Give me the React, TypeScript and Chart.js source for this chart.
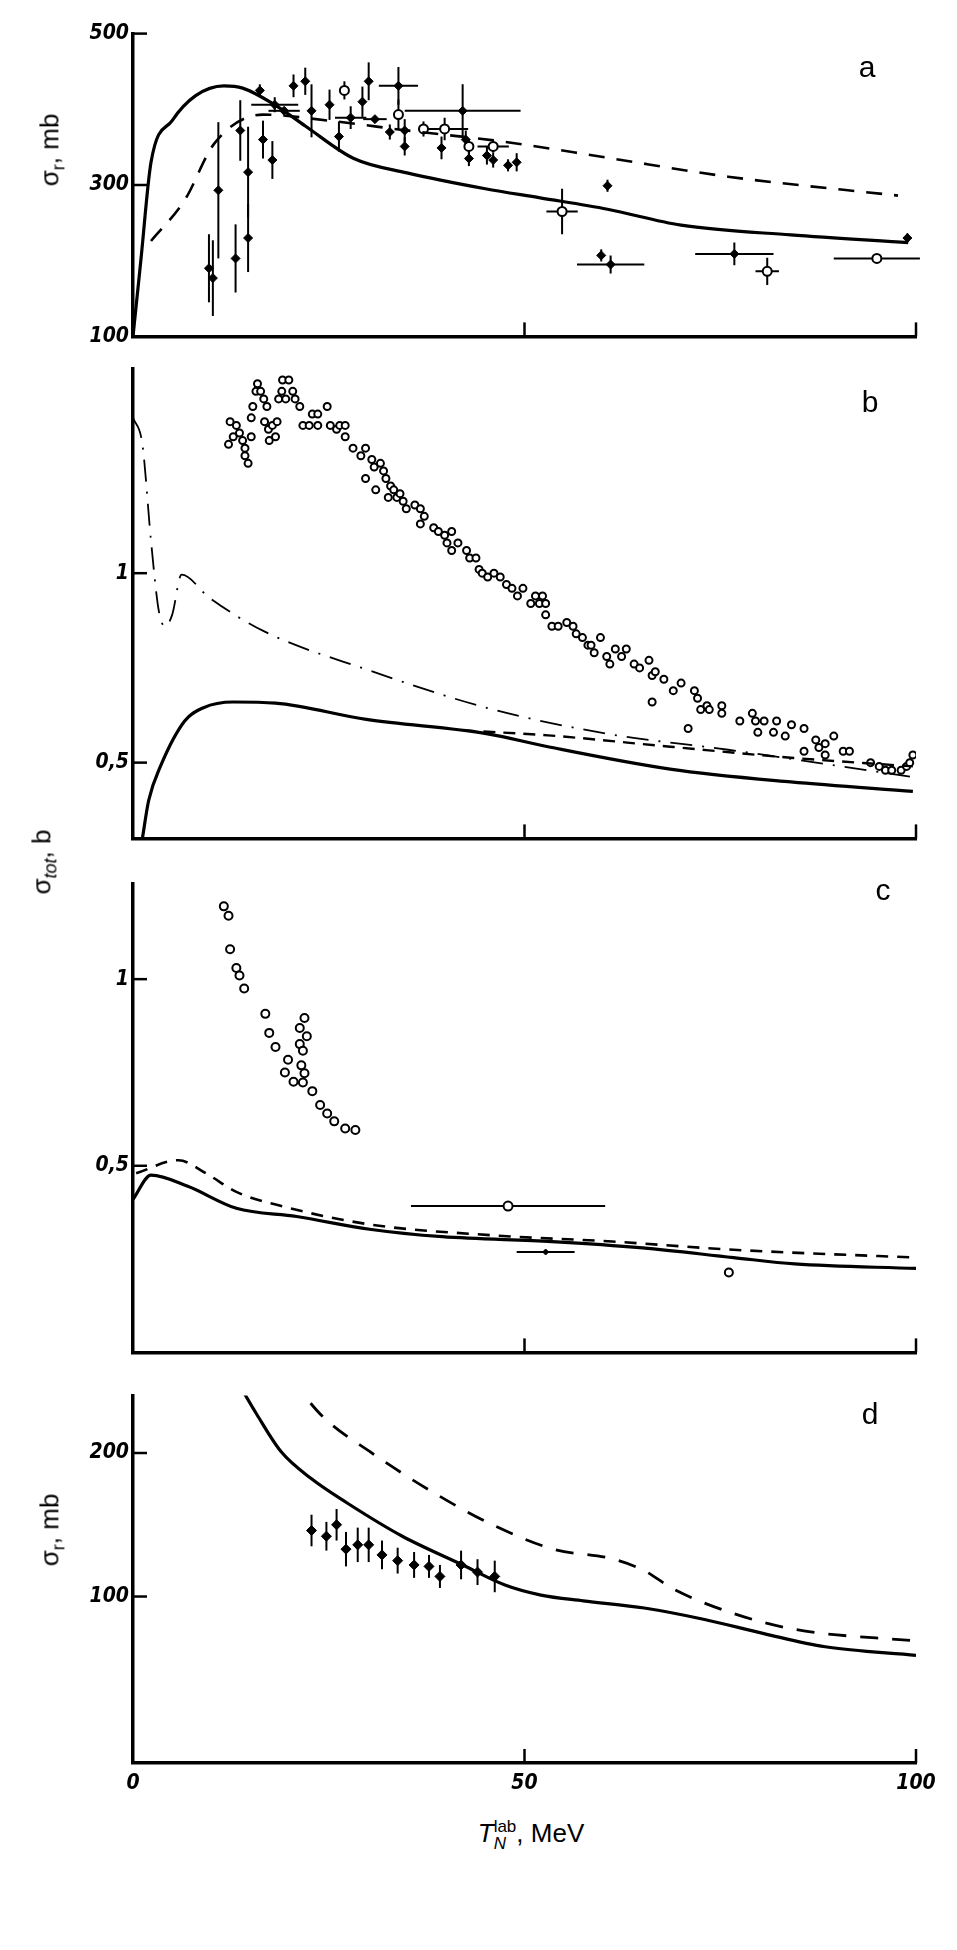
import React, { useEffect, useRef } from 'react';
import { Chart, registerables } from 'chart.js';

Chart.register(...registerables);

type P = [number, number];

// panel a: reaction cross section
const A_SOLID: P[] = [[0, 100], [1, 200], [2.3, 330], [5, 385], [8, 418], [11.6, 431], [14, 428], [18.1, 406], [22, 378], [28.2, 335], [35, 316], [45, 295], [52, 283], [60.6, 268], [70, 247], [84, 234], [99, 224]];
const A_DASH: P[] = [[2.3, 226], [6.6, 280], [10.4, 355], [16.6, 393], [25, 385], [35, 372], [47.5, 357], [60.6, 336], [76, 311], [97.7, 286]];
const A_FILLED: number[][] = [
  // x, y, yerr, xerr
  [9.7, 190, 45, 0], [10.2, 177, 50, 0], [10.9, 293, 90, 0], [13.1, 203, 45, 0], [13.7, 372, 40, 0], [14.7, 317, 60, 0], [14.7, 230, 45, 0],
  [16.6, 360, 25, 0], [17.8, 333, 25, 0], [16.2, 425, 8, 0], [18.1, 406, 10, 3], [19.3, 398, 0, 2], [20.5, 431, 15, 0], [22, 437, 18, 0],
  [22.8, 398, 35, 0], [25.1, 406, 20, 0], [26.3, 364, 20, 0], [27.8, 389, 15, 2], [29.3, 410, 20, 0], [30.1, 437, 25, 0], [30.9, 387, 0, 1.5],
  [32.8, 370, 10, 0], [33.9, 431, 25, 2.5], [34.7, 372, 15, 0], [34.7, 351, 12, 0], [39.4, 349, 15, 0], [42.1, 398, 35, 7.4], [42.5, 360, 12, 0],
  [42.9, 335, 10, 0], [45.2, 339, 12, 0], [46, 333, 10, 0], [47.9, 326, 8, 0], [49, 330, 12, 0], [60.6, 299, 8, 0], [59.8, 207, 8, 0],
  [61, 195, 12, 4.3], [76.8, 209, 15, 5], [98.9, 230, 6, 0]
];
const A_OPEN: number[][] = [
  [27, 425, 12, 0], [33.9, 393, 20, 0], [37.1, 374, 10, 0], [39.8, 374, 15, 3], [42.9, 351, 10, 0], [46, 351, 8, 2], [54.8, 265, 30, 2],
  [81, 186, 18, 1.5], [95, 203, 5, 5.5]
];

// panel b: total cross section
const B_SOLID: P[] = [[1.2, 0.3], [2, 0.4], [3.5, 0.49], [6.6, 0.61], [9, 0.645], [12.8, 0.66], [18.2, 0.657], [29.8, 0.614], [45.3, 0.576], [53, 0.542], [68.6, 0.483], [84, 0.449], [99.6, 0.424]];
const B_DASHDOT: P[] = [[0, 1.41], [1.2, 1.34], [2.3, 1.085], [3.3, 0.9], [4.1, 0.86], [5, 0.89], [6.2, 0.996], [9.7, 0.936], [16.7, 0.847], [29.8, 0.746], [45.3, 0.644], [60.6, 0.576], [76, 0.534], [99.6, 0.462]];
const B_DASH: P[] = [[42.2, 0.585], [53, 0.572], [68.6, 0.542], [84, 0.513], [99.6, 0.49]];
const B_DATA: P[] = [
  [12.2, 1.34], [12.4, 1.4], [12.8, 1.36], [13.2, 1.39], [13.6, 1.37], [14, 1.35], [14.3, 1.33], [14.3, 1.31], [14.7, 1.29], [15.1, 1.41], [15.1, 1.36],
  [15.3, 1.44], [15.7, 1.48], [15.9, 1.5], [16.3, 1.48], [16.7, 1.46], [16.8, 1.4], [17.1, 1.44], [17.3, 1.38], [17.4, 1.35], [17.8, 1.39], [18.2, 1.36],
  [18.4, 1.4], [18.6, 1.46], [19, 1.48], [19.1, 1.51], [19.5, 1.46], [19.9, 1.51], [20.4, 1.48], [20.7, 1.46], [21.3, 1.44], [21.7, 1.39], [22.5, 1.39],
  [22.9, 1.42], [23.6, 1.42], [23.6, 1.39], [24.8, 1.44], [25.2, 1.39], [26, 1.38], [26.4, 1.39], [27.1, 1.39], [27.1, 1.36],
  [28.1, 1.33], [29.1, 1.31], [29.7, 1.33], [29.7, 1.25], [30.5, 1.3], [30.8, 1.28], [31, 1.22], [31.6, 1.29], [32, 1.27], [32.3, 1.25], [32.6, 1.2],
  [32.9, 1.23], [33.3, 1.22], [33.7, 1.2], [34.1, 1.21], [34.5, 1.19], [34.9, 1.17], [36, 1.18], [36.7, 1.17], [37.2, 1.15], [36.7, 1.13], [38.4, 1.12],
  [39, 1.11], [39.8, 1.1], [40.7, 1.11], [40.1, 1.08], [40.7, 1.06], [41.5, 1.08], [42.6, 1.06], [43, 1.04], [43.8, 1.04], [44.2, 1.01], [44.6, 1.0],
  [45.3, 0.99], [46.1, 1.0], [46.9, 0.99], [47.7, 0.97], [48.4, 0.96], [49.1, 0.94], [49.8, 0.96], [50.8, 0.92], [51.4, 0.94], [51.9, 0.92], [52.3, 0.94],
  [52.7, 0.92], [52.7, 0.89], [53.5, 0.86], [54.3, 0.86], [55.4, 0.87], [56.2, 0.86], [56.6, 0.84], [57.4, 0.83], [58.1, 0.81], [58.5, 0.81], [58.9, 0.79],
  [59.7, 0.83], [60.5, 0.78], [60.9, 0.76], [61.6, 0.8], [62.4, 0.78], [63, 0.8], [64, 0.76], [64.7, 0.75], [65.9, 0.77], [66.3, 0.73], [66.7, 0.74],
  [66.3, 0.66], [67.8, 0.72], [69, 0.69], [70, 0.71], [71.7, 0.69], [72.1, 0.67], [72.5, 0.64], [73.3, 0.65], [73.6, 0.64], [75.2, 0.65], [75.2, 0.63],
  [70.9, 0.59], [77.5, 0.61], [79.1, 0.63], [79.5, 0.61], [79.8, 0.58], [80.6, 0.61], [82.2, 0.61], [81.8, 0.58], [83.3, 0.57], [84.1, 0.6], [85.7, 0.59],
  [85.7, 0.53], [87.2, 0.56], [87.6, 0.54], [88.4, 0.55], [88.4, 0.52], [89.5, 0.57], [90.7, 0.53], [91.5, 0.53], [94.2, 0.5], [95.3, 0.49], [96.1, 0.48],
  [96.9, 0.48], [98.1, 0.48], [98.8, 0.49], [99.2, 0.5], [99.6, 0.52]
];

// panel c
const C_SOLID: P[] = [[0, 0.41], [2.3, 0.475], [7, 0.445], [13.2, 0.386], [20.9, 0.364], [30.2, 0.33], [39.5, 0.31], [53.5, 0.297], [65.1, 0.28], [76.7, 0.254], [84.5, 0.237], [100, 0.225]];
const C_DASH: P[] = [[0.4, 0.48], [5.8, 0.515], [9.3, 0.48], [13.2, 0.43], [18.6, 0.394], [30.2, 0.343], [45.7, 0.314], [61.2, 0.297], [76.7, 0.275], [100, 0.254]];
const C_DATA: P[] = [
  [11.6, 1.195], [12.2, 1.17], [12.4, 1.08], [13.2, 1.03], [13.6, 1.01], [14.2, 0.975], [16.9, 0.907], [17.4, 0.856], [18.2, 0.818], [19.8, 0.784],
  [19.4, 0.75], [20.5, 0.725], [21.3, 0.869], [21.9, 0.896], [22.2, 0.847], [21.3, 0.826], [21.7, 0.808], [21.5, 0.769], [21.9, 0.748], [21.7, 0.723],
  [22.9, 0.7], [23.9, 0.663], [24.8, 0.64], [25.7, 0.619], [27.1, 0.6], [28.4, 0.596], [76.1, 0.214]
];
const C_OPEN_ERR: number[][] = [[47.9, 0.392, 0, 12.4]];
const C_FILLED_ERR: number[][] = [[52.7, 0.269, 0, 3.7]];

// panel d
const D_SOLID: P[] = [[13.1, 252], [15.8, 227], [18.9, 201], [22.8, 182], [27.4, 165], [34.4, 142], [42.1, 122], [47.5, 108], [52.1, 101], [57.5, 97], [65.3, 92], [73, 84], [80.7, 74], [88.4, 65], [100, 59]];
const D_DASH: P[] = [[20.1, 252], [24.3, 225], [30.5, 200], [38.2, 173], [45.9, 150], [53.7, 133], [61.4, 126], [65.3, 118], [69.1, 105], [76.8, 88], [84.6, 77], [100, 69]];
const D_FILLED: number[][] = [
  [22.8, 146, 11, 0], [24.7, 142, 10, 0], [26, 150, 11, 0], [27.2, 133, 12, 0], [28.7, 136, 12, 0], [30.1, 136, 12, 0], [31.8, 129, 10, 0],
  [33.8, 125, 9, 0], [35.9, 122, 9, 0], [37.8, 121, 8, 0], [39.2, 114, 8, 0], [41.9, 122, 10, 0], [44, 117, 9, 0], [46.2, 114, 11, 0]
];

const X_TICKS = [0, 50, 100];
const TICK_FONT = { family: '"Liberation Sans Narrow", "DejaVu Sans Condensed", sans-serif', size: 21, style: 'italic' as const, weight: 'bold' as const };

const pts = (a: P[]) => a.map(([x, y]) => ({ x, y }));
const errPts = (a: number[][]) => a.map(([x, y, ey, ex]) => ({ x, y, ey, ex }));

const line = (data: P[], dash: number[] = [], width = 3.2) => ({
  type: 'line' as const, data: pts(data), borderColor: '#000', borderWidth: width, borderDash: dash,
  pointRadius: 0, cubicInterpolationMode: 'monotone' as const, fill: false,
});
const filled = (data: number[][], r = 4.5) => ({
  type: 'scatter' as const, data: errPts(data), pointStyle: 'rectRot', pointRadius: r,
  backgroundColor: '#000', borderColor: '#000', borderWidth: 1, errBars: true,
});
const open = (data: any[], r = 4, err = false) => ({
  type: 'scatter' as const, data: err ? errPts(data) : pts(data), pointStyle: 'circle', pointRadius: r,
  backgroundColor: '#fff', borderColor: '#000', borderWidth: 2, errBars: err,
});

const decor = {
  id: 'decor',
  beforeDatasetsDraw(chart: any) {
    const ctx = chart.ctx;
    const xs = chart.scales.x, ys = chart.scales.y;
    ctx.save();
    ctx.strokeStyle = '#000';
    ctx.lineWidth = 2;
    chart.data.datasets.forEach((ds: any) => {
      if (!ds.errBars) return;
      ds.data.forEach((p: any) => {
        const px = xs.getPixelForValue(p.x), py = ys.getPixelForValue(p.y);
        ctx.beginPath();
        if (p.ey) { ctx.moveTo(px, ys.getPixelForValue(p.y - p.ey)); ctx.lineTo(px, ys.getPixelForValue(p.y + p.ey)); }
        if (p.ex) { ctx.moveTo(xs.getPixelForValue(p.x - p.ex), py); ctx.lineTo(xs.getPixelForValue(p.x + p.ex), py); }
        ctx.stroke();
      });
    });
    const a = chart.chartArea;
    ctx.lineWidth = 2.5;
    [50, 100].forEach(v => {
      const px = xs.getPixelForValue(v);
      ctx.beginPath(); ctx.moveTo(px, a.bottom); ctx.lineTo(px, a.bottom - 14); ctx.stroke();
    });
    (chart.options.inTicks || []).forEach((v: number) => {
      const py = ys.getPixelForValue(v);
      ctx.beginPath(); ctx.moveTo(a.left, py); ctx.lineTo(a.left + 14, py); ctx.stroke();
    });
    ctx.restore();
  },
};

const PLOT_LEFT = 133;
const PLOT_RIGHT = 916;

function Panel(props: { top: number; bottom: number; ymin: number; ymax: number; yticks: number[]; fmt: (v: number) => string; datasets: any[]; xLabels?: boolean }) {
  const ref = useRef<HTMLCanvasElement>(null);
  const pad = 10;
  const xh = props.xLabels ? 36 : 2;
  const height = props.bottom - props.top + pad + xh;
  useEffect(() => {
    if (!ref.current) return;
    const chart = new Chart(ref.current, {
      type: 'scatter',
      data: { datasets: props.datasets },
      plugins: [decor],
      options: {
        animation: false,
        responsive: false,
        devicePixelRatio: 1,
        inTicks: props.yticks,
        layout: { padding: { top: pad, right: 957 - PLOT_RIGHT, left: 0, bottom: 0 } },
        plugins: { legend: { display: false }, tooltip: { enabled: false } },
        scales: {
          x: {
            type: 'linear', min: 0, max: 100,
            afterBuildTicks: (s: any) => { s.ticks = X_TICKS.map(v => ({ value: v })); },
            afterFit: (s: any) => { s.height = xh; },
            grid: { display: false, drawTicks: false },
            border: { display: true, color: '#000', width: 3.5 },
            ticks: { display: !!props.xLabels, color: '#000', font: TICK_FONT, padding: 8, autoSkip: false, maxRotation: 0 },
          },
          y: {
            type: 'linear', min: props.ymin, max: props.ymax,
            afterBuildTicks: (s: any) => { s.ticks = props.yticks.map(v => ({ value: v })); },
            afterFit: (s: any) => { s.width = PLOT_LEFT; },
            grid: { display: false, drawTicks: false },
            border: { display: true, color: '#000', width: 3.5 },
            ticks: { color: '#000', font: TICK_FONT, padding: 4, autoSkip: false, callback: (v: any) => props.fmt(Number(v)) },
          },
        },
      } as any,
    });
    return () => chart.destroy();
  }, []);
  return <canvas ref={ref} width={957} height={height} style={{ position: 'absolute', left: 0, top: props.top - pad, width: 957, height }} />;
}

const yTitle = (left: number, top: number, content: React.ReactNode) => (
  <div style={{ position: 'absolute', left, top, transform: 'translate(-50%, -50%) rotate(-90deg)', whiteSpace: 'nowrap', fontFamily: '"Liberation Sans", sans-serif', fontSize: 26 }}>{content}</div>
);
const letter = (left: number, top: number, t: string) => (
  <div style={{ position: 'absolute', left, top, transform: 'translate(-50%, -50%)', fontFamily: '"Liberation Sans Narrow", "Liberation Sans", sans-serif', fontSize: 30 }}>{t}</div>
);

export default function App() {
  const comma = (v: number) => String(v).replace('.', ',');
  return (
    <div style={{ position: 'absolute', left: 0, top: 0, width: 957, height: 1950, background: '#fff' }}>
      <Panel top={27} bottom={351} ymin={100} ymax={500} yticks={[100, 300, 500]} fmt={String}
        datasets={[line(A_SOLID), line(A_DASH, [16, 12], 2.6), filled(A_FILLED), open(A_OPEN, 4.5, true)]} />
      <Panel top={362} bottom={853} ymin={0.3} ymax={1.54} yticks={[0.5, 1]} fmt={comma}
        datasets={[line(B_SOLID), line(B_DASHDOT, [22, 10, 2, 10], 1.8), line(B_DASH, [12, 8], 2.4), open(B_DATA, 3.5)]} />
      <Panel top={877} bottom={1367} ymin={0} ymax={1.256} yticks={[0.5, 1]} fmt={comma}
        datasets={[line(C_SOLID), line(C_DASH, [12, 9], 2.6), open(C_DATA, 4), open(C_OPEN_ERR, 4.5, true), filled(C_FILLED_ERR, 3)]} />
      <Panel top={1389} bottom={1763} ymin={-16} ymax={240} yticks={[100, 200]} fmt={String} xLabels
        datasets={[line(D_SOLID), line(D_DASH, [18, 14], 2.8), filled(D_FILLED, 5)]} />
      {yTitle(52, 150, <span>σ<sub style={{ fontSize: 18 }}>r</sub>, mb</span>)}
      {yTitle(44, 862, <span>σ<sub style={{ fontSize: 18, fontStyle: 'italic' }}>tot</sub>, b</span>)}
      {yTitle(52, 1530, <span>σ<sub style={{ fontSize: 18 }}>r</sub>, mb</span>)}
      {letter(867, 67, 'a')}
      {letter(870, 402, 'b')}
      {letter(883, 890, 'c')}
      {letter(870, 1414, 'd')}
      <div style={{ position: 'absolute', left: 531, top: 1835, transform: 'translate(-50%, -50%)', fontFamily: '"Liberation Sans", sans-serif', fontSize: 26, whiteSpace: 'nowrap' }}>
        <i>T</i><span style={{ display: 'inline-flex', flexDirection: 'column', verticalAlign: 'middle', fontSize: 17, lineHeight: '17px' }}><span>lab</span><i>N</i></span>, MeV
      </div>
    </div>
  );
}
